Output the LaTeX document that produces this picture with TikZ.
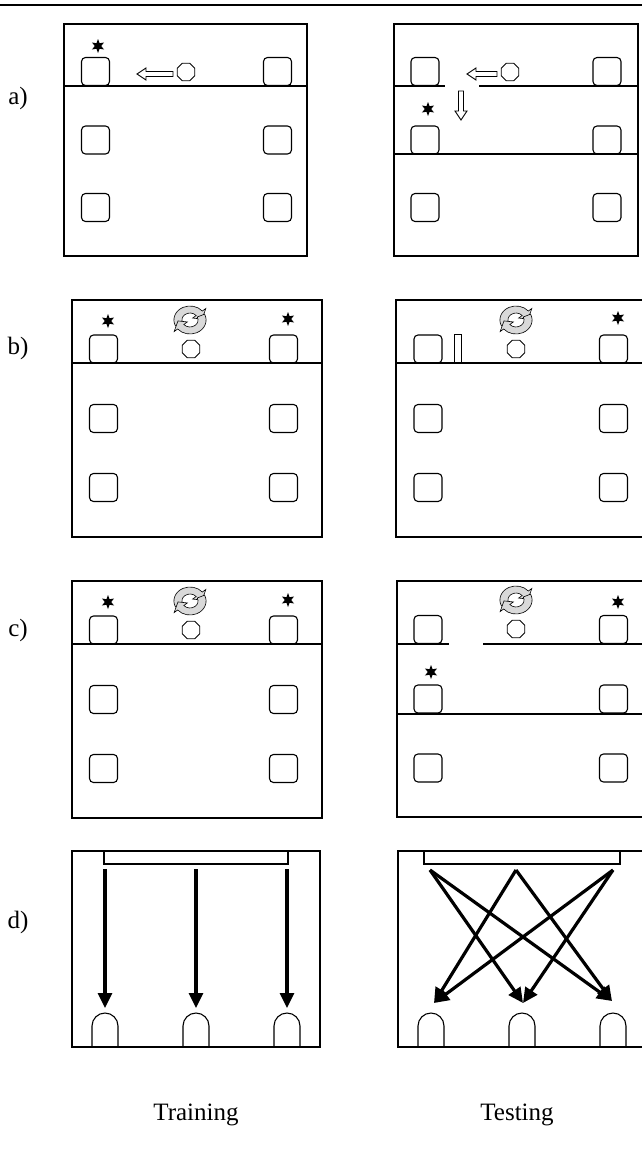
\documentclass[tikz,border=0pt]{standalone}
\usepackage{fontspec}
\setmainfont{Liberation Serif}
\usetikzlibrary{shapes.geometric,arrows.meta}
\tikzset{
  rot/.pic={
    \begin{scope}[yscale=-1,xscale=1.15]
      \draw[fill=gray!30,line width=0.6pt] (205:14) arc (205:40:14) -- (40:18) -- (5:10.5) -- (40:3) -- (40:7) arc (40:205:7) -- cycle;
      \draw[fill=gray!30,line width=0.6pt] (25:14) arc (25:-140:14) -- (-140:18) -- (-175:10.5) -- (-140:3) -- (-140:7) arc (-140:25:7) -- cycle;
    \end{scope}
  }
}
\begin{document}
\begin{tikzpicture}[x=1pt,y=-1pt,
  frame/.style={line width=1.4pt},
  sq/.style={draw,rounded corners=4pt,minimum size=28pt,inner sep=0pt,line width=1.1pt},
  starn/.style={star,star points=6,star point ratio=2.2,fill=black,inner sep=0pt,minimum size=14pt},
  octa/.style={regular polygon,regular polygon sides=8,draw,inner sep=0pt,minimum size=20pt,line width=0.9pt},
  hollow/.style={draw,line width=0.9pt,fill=white},
  lbl/.style={font=\fontsize{25}{30}\selectfont,inner sep=0pt},
  bigarrow/.style={line width=3.2pt,-{Triangle[length=15pt,width=14pt]}},
  bar/.style={draw,line width=1.1pt,inner sep=0pt,minimum height=13pt},
  arch/.style={line width=1.1pt}
]
\useasboundingbox (0,0) rectangle (642,1154);
\draw[line width=2.6pt] (0,5) -- (642,5);

% labels
\node[lbl] (la) at (18,98) {a)};
\node[lbl] (lb) at (18,348) {b)};
\node[lbl] (lc) at (18,630) {c)};
\node[lbl] (ld) at (18,922) {d)};
\node[lbl,anchor=base] (ltr) at (196,1120) {Training};
\node[lbl,anchor=base] (lte) at (517,1120) {Testing};

% ---------- a) training
\draw[frame] (64,24) rectangle (307,256);
\draw[frame] (64,86) -- (307,86);
\foreach \x/\c in {95.5/l,277.5/r}
  \foreach \y/\r in {71.5/1,140/2,207.5/3}
    \node[sq] (AL\c\r) at (\x,\y) {};
\node[starn] (ALs) at (98,46) {};
\node[octa,minimum size=19pt] (ALo) at (186,72) {};
\draw[hollow] (173,71.5) -- (146,71.5) -- (146,68) -- (137,74) -- (146,80) -- (146,76.5) -- (173,76.5) -- cycle;

% ---------- a) testing
\draw[frame] (394,24) rectangle (638,256);
\draw[frame] (394,86) -- (445,86) (479,86) -- (638,86);
\draw[frame] (394,154) -- (638,154);
\foreach \x/\c in {425/l,607/r}
  \foreach \y/\r in {71.5/1,140/2,207.5/3}
    \node[sq] (AR\c\r) at (\x,\y) {};
\node[starn] (ARs) at (428,109) {};
\node[octa,minimum size=19pt] (ARo) at (510,72) {};
\draw[hollow] (497,71.5) -- (476,71.5) -- (476,68) -- (467,74) -- (476,80) -- (476,76.5) -- (497,76.5) -- cycle;
\draw[hollow] (458.5,91) -- (458.5,111) -- (455,111) -- (461,120) -- (467,111) -- (463.5,111) -- (463.5,91) -- cycle;

% ---------- b) training
\draw[frame] (72,300) rectangle (322,537);
\draw[frame] (72,363) -- (322,363);
\foreach \x/\c in {103.5/l,283.5/r}
  \foreach \y/\r in {349/1,418.5/2,487.5/3}
    \node[sq] (BL\c\r) at (\x,\y) {};
\node[starn] (BLs1) at (108,321) {};
\node[starn] (BLs2) at (288,319) {};
\pic at (190,320) {rot};
\node[octa,minimum size=19pt] (BLo) at (191,349) {};

% ---------- b) testing
\draw[frame] (642,300) -- (396,300) -- (396,537) -- (642,537);
\draw[frame] (396,363) -- (642,363);
\foreach \x/\c in {428/l,613.5/r}
  \foreach \y/\r in {349/1,418.5/2,487.5/3}
    \node[sq] (BR\c\r) at (\x,\y) {};
\draw[line width=0.9pt] (454,334) rectangle (461,363);
\node[starn] (BRs) at (618,318) {};
\pic at (516,320) {rot};
\node[octa,minimum size=19pt] (BRo) at (516,349) {};

% ---------- c) training
\draw[frame] (72,581) rectangle (322,818);
\draw[frame] (72,644) -- (322,644);
\foreach \x/\c in {103.5/l,283.5/r}
  \foreach \y/\r in {630/1,699.5/2,768.5/3}
    \node[sq] (CL\c\r) at (\x,\y) {};
\node[starn] (CLs1) at (108,602) {};
\node[starn] (CLs2) at (288,600) {};
\pic at (190,601) {rot};
\node[octa,minimum size=19pt] (CLo) at (191,630) {};

% ---------- c) testing
\draw[frame] (642,581) -- (397,581) -- (397,817) -- (642,817);
\draw[frame] (397,644) -- (449,644) (483,644) -- (642,644);
\draw[frame] (397,714) -- (642,714);
\foreach \x/\c in {428/l,613.5/r}
  \foreach \y/\r in {629.5/1,699/2,768/3}
    \node[sq] (CR\c\r) at (\x,\y) {};
\node[starn] (CRs1) at (618,602) {};
\node[starn] (CRs2) at (431,672) {};
\pic at (516,600) {rot};
\node[octa,minimum size=19pt] (CRo) at (516,629) {};

% ---------- d) training
\draw[frame] (72,851) rectangle (320,1047);
\node[bar,minimum width=184pt] (DLbar) at (196,857.5) {};
\foreach \x/\i in {105/1,196/2,287/3}{
  \draw[arch] (\x-13,1047) -- (\x-13,1026) arc (180:360:13) -- (\x+13,1047);
  \coordinate (DLs\i) at (\x,869);
  \coordinate (DLt\i) at (\x,1008);
  \draw[bigarrow] (DLs\i) -- (DLt\i);
}

% ---------- d) testing
\draw[frame] (642,851) -- (398,851) -- (398,1047) -- (642,1047);
\node[bar,minimum width=196pt] (DRbar) at (522,857.5) {};
\foreach \x/\i in {431/1,522/2,613/3}
  \draw[arch] (\x-13,1047) -- (\x-13,1026) arc (180:360:13) -- (\x+13,1047);
\coordinate (DRs1) at (430,870);
\coordinate (DRs2) at (516,870);
\coordinate (DRs3) at (613,870);
\coordinate (DRt1) at (434,1003);
\coordinate (DRt2) at (523,1003);
\coordinate (DRt3) at (612,1001);
\draw[bigarrow] (DRs1) -- (DRt2);
\draw[bigarrow] (DRs1) -- (DRt3);
\draw[bigarrow] (DRs2) -- (DRt1);
\draw[bigarrow] (DRs2) -- (DRt3);
\draw[bigarrow] (DRs3) -- (DRt1);
\draw[bigarrow] (DRs3) -- (DRt2);
\end{tikzpicture}
\end{document}
